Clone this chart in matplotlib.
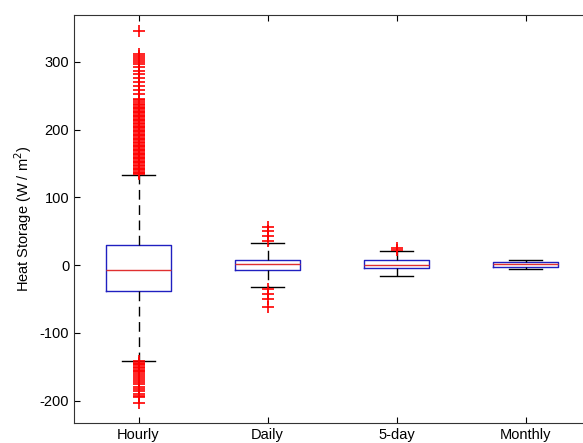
import matplotlib
matplotlib.use("Agg")
from matplotlib import pyplot as plt

plt.rcParams['font.family'] = ['Liberation Sans', 'DejaVu Sans']
plt.rcParams['axes.unicode_minus'] = False

labels = ["Hourly", "Daily", "5-day", "Monthly"]
q1 = [-38, -7, -4, -2]
med = [-7, 2, 0.5, 1]
q3 = [30, 8, 7, 4]
wlo = [-141, -32, -16, -5]
whi = [133, 33, 21, 7]

hourly_out = [134, 136, 138, 140, 142, 144, 146, 148, 150, 152, 154, 156, 158, 160,
              162, 164, 166, 168, 170, 172, 174, 176, 178, 180, 182, 184, 186, 188,
              190, 192, 194, 196, 198, 200, 202, 204, 206, 208, 210, 212, 214, 216,
              218, 220, 222, 224, 226, 228, 230, 232, 234, 236, 238, 240, 243, 245,
              252, 258, 265, 270, 276, 282, 287, 292, 297, 300, 303, 306, 309, 312, 345,
              -142, -144, -146, -148, -150, -152, -154, -156, -158, -160, -163,
              -166, -170, -173, -176, -180, -183, -186, -190, -193, -195, -204]
daily_out = [36, 43, 50, 57, -35, -43, -50, -62]
fiveday_out = [23, 25]
monthly_out = []
fliers = [hourly_out, daily_out, fiveday_out, monthly_out]

stats = []
for i in range(len(labels)):
    stats.append(dict(label=labels[i], q1=q1[i], med=med[i], q3=q3[i],
                      whislo=wlo[i], whishi=whi[i], fliers=fliers[i]))

fig = plt.figure(figsize=(5.83, 4.43), dpi=100)
ax = fig.add_axes([0.127, 0.045, 0.885, 0.921])

ax.bxp(stats, widths=0.5, showfliers=True,
       boxprops=dict(color="#2020c0", linewidth=1),
       medianprops=dict(color="#e03030", linewidth=1),
       whiskerprops=dict(color="black", linestyle=(0, (7, 4)), linewidth=1),
       capprops=dict(color="black", linewidth=1),
       flierprops=dict(marker="+", markeredgecolor="red", markersize=8,
                       markeredgewidth=1.2, linestyle="none"),
       capwidths=0.25)

ax.set_xlim(0.5, 4.5)
ax.set_ylim(-233, 369)
ax.set_yticks([-200, -100, 0, 100, 200, 300])
ax.set_ylabel("Heat Storage (W / m$^2$)", fontsize=10.5)
ax.tick_params(direction="in", top=True, right=False, labelsize=10.5, length=4)
ax.spines['right'].set_visible(False)
for s in ax.spines.values():
    s.set_color("#333333")

fig.savefig("out.png", dpi=100)
